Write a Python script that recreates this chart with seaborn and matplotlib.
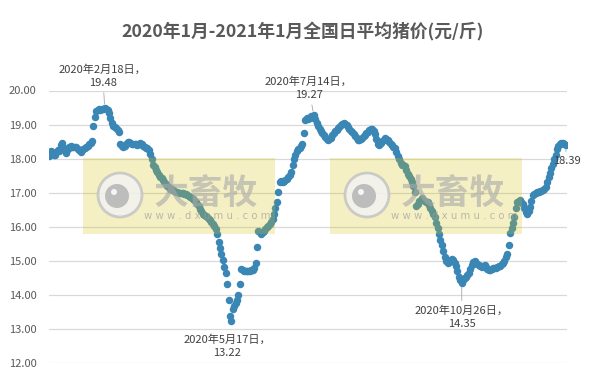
import pandas as pd
import matplotlib.pyplot as plt
import matplotlib.patches as patches
import matplotlib.ticker as mticker
import seaborn as sns

# daily national average pig price, yuan/jin
jan20 = [18.07, 18.22, 18.20, 18.12, 18.10, 18.18, 18.25, 18.22, 18.40, 18.46, 18.30,
         18.22, 18.17, 18.28, 18.35, 18.36, 18.35, 18.34, 18.35, 18.33, 18.28, 18.25]
feb20 = [18.20, 18.24, 18.28, 18.30, 18.34, 18.38, 18.42, 18.47, 18.52, 18.96, 19.23,
         19.40, 19.44, 19.45, 19.43, 19.46, 19.45, 19.48, 19.45, 19.44, 19.35, 19.18,
         19.05, 18.96, 18.92, 18.90, 18.85, 18.78, 18.42]
mar20 = [18.36, 18.35, 18.38, 18.44, 18.50, 18.48, 18.45, 18.44, 18.42, 18.44, 18.42,
         18.40, 18.44, 18.46, 18.42, 18.38, 18.33, 18.30, 18.30, 18.25, 18.15, 17.98,
         17.80, 17.74, 17.68, 17.60, 17.52, 17.47, 17.42, 17.36, 17.32]
apr20 = [17.25, 17.20, 17.16, 17.12, 17.10, 17.08, 17.05, 17.03, 17.02, 17.00, 16.99,
         16.98, 16.98, 16.96, 16.95, 16.93, 16.91, 16.88, 16.85, 16.82, 16.79, 16.74,
         16.66, 16.60, 16.53, 16.46, 16.38, 16.35, 16.32, 16.28]
may20 = [16.24, 16.20, 16.15, 16.08, 16.02, 15.92, 15.78, 15.55, 15.38, 15.20, 15.03,
         14.83, 14.64, 14.33, 13.85, 13.37, 13.22, 13.60, 13.68, 13.76, 13.86, 14.00,
         14.32, 14.76, 14.72, 14.70, 14.69, 14.69, 14.70, 14.71, 14.72]
jun20 = [14.74, 14.78, 14.94, 15.40, 15.88, 15.85, 15.80, 15.84, 15.88, 15.93, 15.98,
         16.03, 16.08, 16.14, 16.24, 16.38, 16.55, 16.72, 17.03, 17.30, 17.33, 17.32,
         17.35, 17.38, 17.40, 17.45, 17.52, 17.62, 17.80, 18.00]
jul20 = [18.12, 18.22, 18.28, 18.32, 18.36, 18.42, 18.75, 19.12, 19.18, 19.15, 19.20,
         19.24, 19.22, 19.27, 19.15, 19.05, 18.95, 18.88, 18.82, 18.76, 18.70, 18.64,
         18.58, 18.55, 18.57, 18.62, 18.68, 18.74, 18.80, 18.85, 18.89]
aug20 = [18.94, 18.98, 19.02, 19.04, 19.02, 18.98, 18.94, 18.88, 18.82, 18.77, 18.72,
         18.66, 18.60, 18.56, 18.56, 18.58, 18.62, 18.66, 18.70, 18.75, 18.79, 18.84,
         18.88, 18.86, 18.80, 18.72, 18.58, 18.42, 18.40, 18.46, 18.52]
sep20 = [18.56, 18.60, 18.58, 18.54, 18.48, 18.44, 18.40, 18.35, 18.30, 18.20, 18.08,
         17.98, 17.86, 17.82, 17.80, 17.77, 17.68, 17.56, 17.48, 17.40, 17.30, 17.20,
         17.02, 16.62, 16.68, 16.76, 16.80, 16.84, 16.80, 16.76]
oct20 = [16.74, 16.72, 16.64, 16.55, 16.46, 16.38, 16.28, 16.12, 15.95, 15.78, 15.62,
         15.46, 15.28, 15.12, 14.98, 14.94, 14.96, 15.02, 15.06, 15.03, 14.95, 14.85,
         14.70, 14.52, 14.44, 14.35, 14.45, 14.50, 14.52, 14.58, 14.64]
nov20 = [14.75, 14.88, 14.96, 14.98, 14.95, 14.90, 14.88, 14.85, 14.83, 14.86, 14.88,
         14.82, 14.76, 14.74, 14.74, 14.76, 14.78, 14.79, 14.80, 14.82, 14.84, 14.86,
         14.90, 14.94, 15.00, 15.10, 15.20, 15.47, 15.82, 15.95]
dec20 = [16.10, 16.30, 16.55, 16.74, 16.76, 16.79, 16.74, 16.66, 16.55, 16.42, 16.36,
         16.45, 16.58, 16.75, 16.92, 16.97, 17.00, 17.02, 17.03, 17.04, 17.05, 17.07,
         17.10, 17.18, 17.30, 17.45, 17.58, 17.72, 17.85, 17.98, 18.12]
jan21 = [18.28, 18.38, 18.44, 18.46, 18.45, 18.44, 18.39]

month_starts = ['2020-01-10', '2020-02-01', '2020-03-01', '2020-04-01', '2020-05-01',
                '2020-06-01', '2020-07-01', '2020-08-01', '2020-09-01', '2020-10-01',
                '2020-11-01', '2020-12-01', '2021-01-01']
month_values = [jan20, feb20, mar20, apr20, may20, jun20, jul20, aug20, sep20, oct20,
                nov20, dec20, jan21]

# labelled points
ann_dates = ['2020-02-18', '2020-05-17', '2020-07-14', '2020-10-26', '2021-01-07']
ann_texts = ['2020年2月18日，\n19.48', '2020年5月17日，\n13.22', '2020年7月14日，\n19.27',
             '2020年10月26日，\n14.35', '18.39']

title = '2020年1月-2021年1月全国日平均猪价(元/斤)'

frames = []
for start, vals in zip(month_starts, month_values):
    frames.append(pd.DataFrame({'date': pd.date_range(start, periods=len(vals), freq='D'),
                                'price': vals}))
df = pd.concat(frames, ignore_index=True)

sns.set_style('white')
plt.rcParams['font.family'] = ['Noto Sans CJK SC', 'DejaVu Sans']

W, H = 592, 381
fig = plt.figure(figsize=(W / 100, H / 100), dpi=100)
ax = fig.add_axes([49 / W, 18 / H, 518 / W, 272.5 / H])

sns.scatterplot(data=df, x='date', y='price', ax=ax, color='#3a86b5', s=29,
                linewidth=0, zorder=3)

ax.set_xlim(pd.Timestamp('2020-01-09 19:00'), pd.Timestamp('2021-01-08 00:00'))
ax.set_ylim(12, 20)
ax.set_yticks(range(12, 21))
ax.yaxis.set_major_formatter(mticker.FormatStrFormatter('%.2f'))
ax.set_xticks([])
ax.set_xlabel('')
ax.set_ylabel('')
ax.grid(axis='y', color='#d9d9d9', lw=0.9)
ax.set_axisbelow(True)
sns.despine(ax=ax, left=True, bottom=True)
ax.tick_params(axis='y', length=0, pad=9, labelsize=8, labelcolor='#595959')

offsets = [(-2, 32), (-4, -25), (-5, 27), (0, -34), (1, -16)]
arrows = [True, False, True, True, True]
for d, t, off, arr in zip(ann_dates, ann_texts, offsets, arrows):
    y = df.loc[df['date'] == pd.Timestamp(d), 'price'].iloc[0]
    ax.annotate(t, xy=(pd.Timestamp(d), y), xytext=off, textcoords='offset pixels',
                ha='center', va='center', fontsize=8, color='#404040',
                linespacing=1.4, zorder=5,
                arrowprops=dict(arrowstyle='-', color='#a6a6a6', lw=0.6,
                                shrinkA=1, shrinkB=3) if arr else None)

fig.text(303 / W, 1 - 32 / H, title, ha='center', va='center', fontsize=12.8,
         fontweight='bold', color='#595959')


# watermark boxes (drawn over the points, like the original)
def px(x, y):
    return x / W, 1 - y / H


def watermark(x0):
    fig.add_artist(patches.Rectangle(px(x0, 234), 192 / W, 76 / H,
                                     transform=fig.transFigure, facecolor='#d8c410',
                                     alpha=0.25, edgecolor='none', zorder=10))
    cx, cy = x0 + 37, 195
    fig.add_artist(patches.Ellipse(px(cx, cy), 44 / W, 44 / H, transform=fig.transFigure,
                                   facecolor='#f2f2f2', edgecolor='#c4c4c4', lw=2,
                                   alpha=0.85, zorder=11))
    fig.add_artist(patches.Ellipse(px(cx - 3, cy + 1), 24 / W, 24 / H,
                                   transform=fig.transFigure, facecolor='#bdbdbd',
                                   edgecolor='none', zorder=12))
    fig.add_artist(patches.Ellipse(px(cx - 6, cy - 3), 6 / W, 6 / H,
                                   transform=fig.transFigure, facecolor='#f5f5f5',
                                   edgecolor='none', zorder=13))
    fig.text(*px(x0 + 123, 193), '大畜牧', ha='center', va='center', fontsize=25,
             fontweight='bold', color='#a8a8a8', alpha=0.6, zorder=12)
    fig.text(*px(x0 + 124, 216), 'w w w . d x u m u . c o m', ha='center', va='center',
             fontsize=7.3, color='#a0a0a0', alpha=0.7, zorder=12,
             family='DejaVu Sans')


watermark(83)
watermark(330)

fig.savefig('out.png', dpi=100)
